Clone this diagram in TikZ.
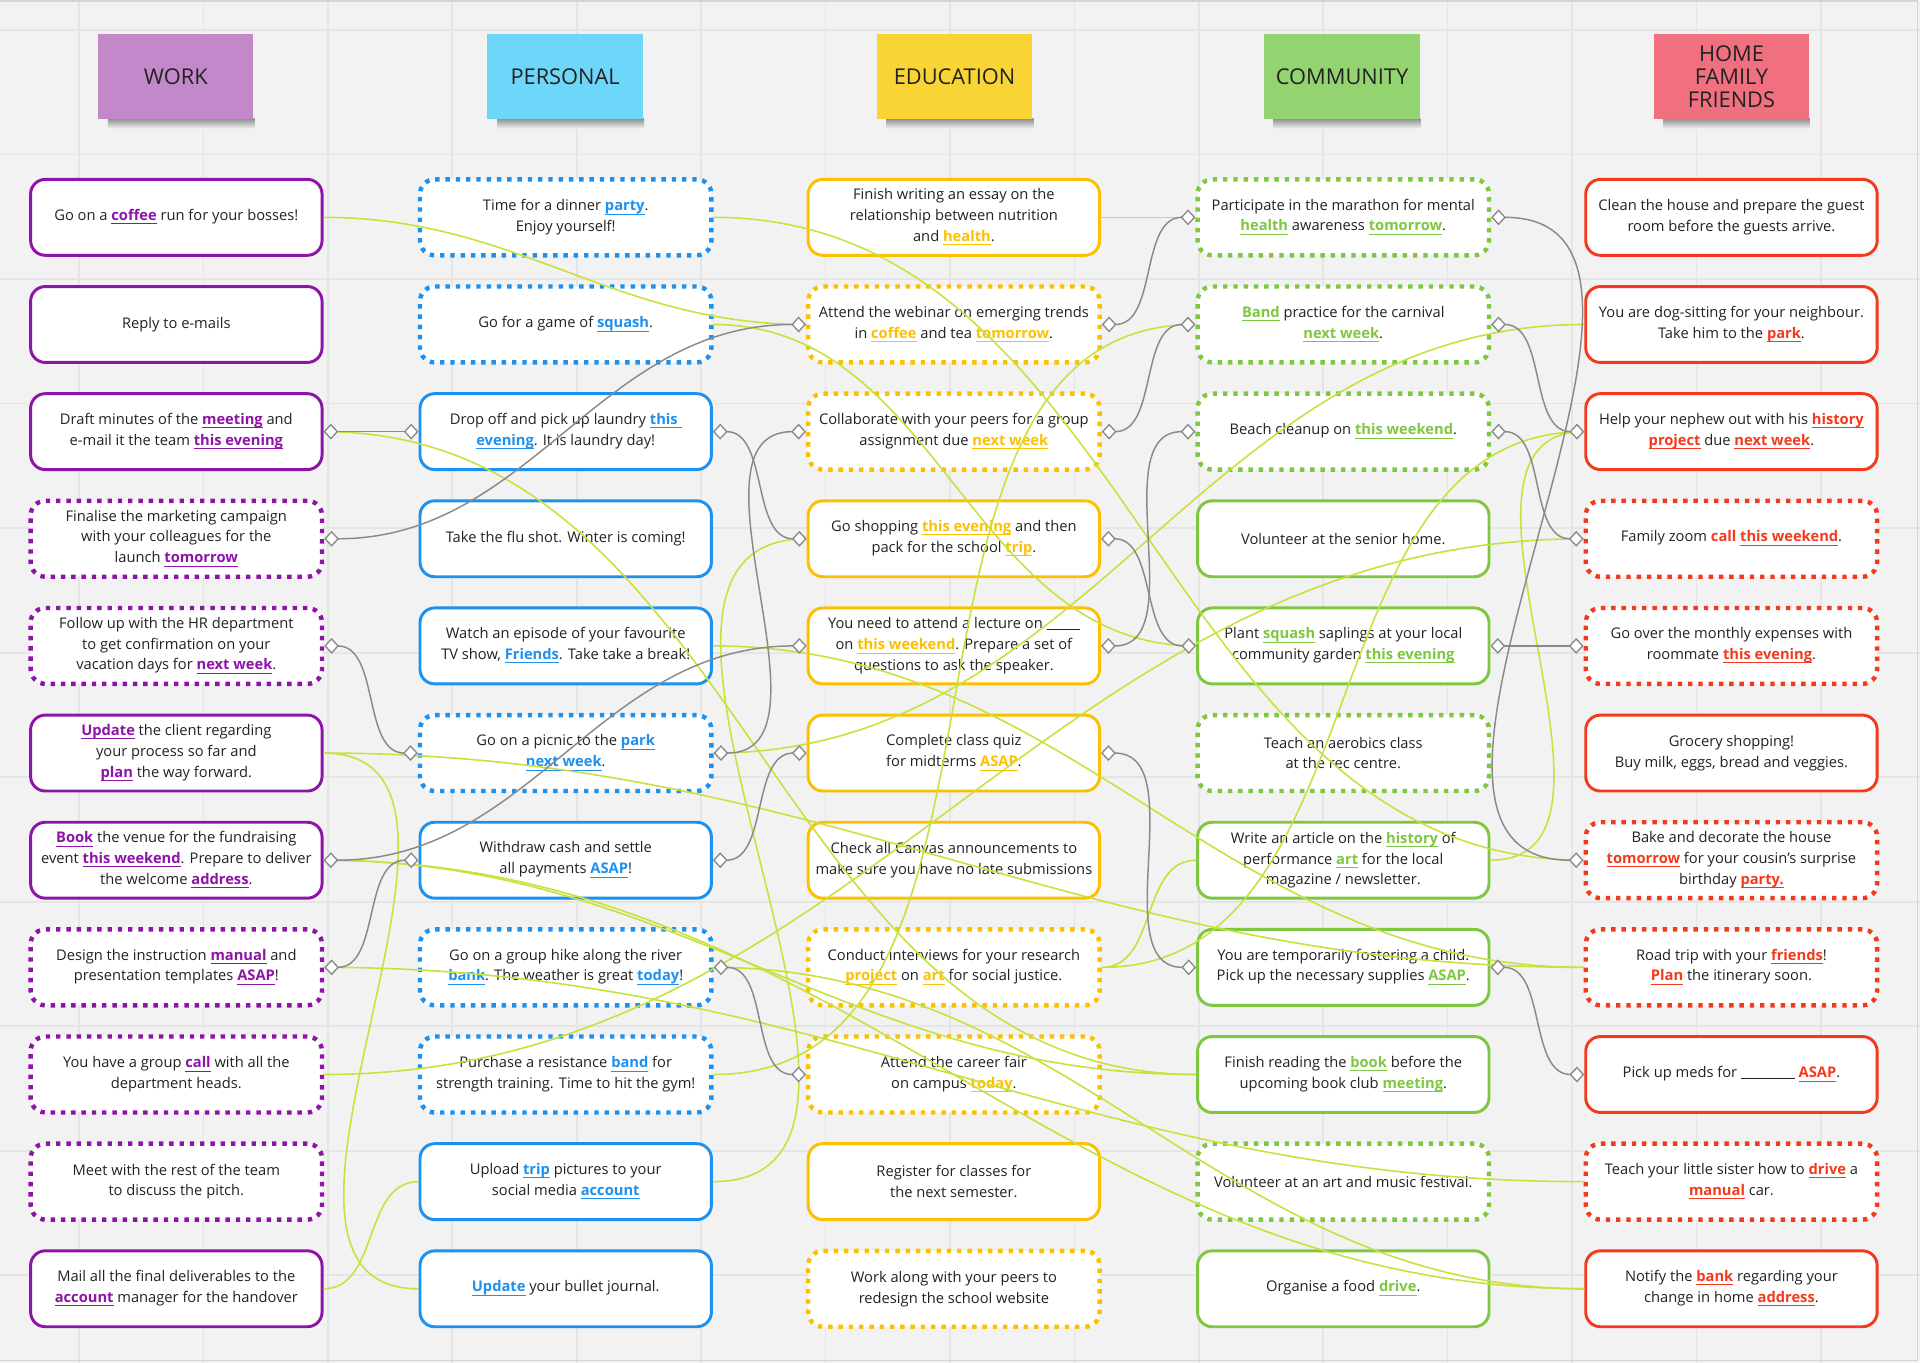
\documentclass[tikz,border=0pt]{standalone}
\usepackage{fontspec}
\setmainfont{Open Sans}
\usetikzlibrary{arrows.meta}

\definecolor{bgc}{RGB}{242,242,242}
\definecolor{gridc}{RGB}{229,229,229}
\definecolor{framec}{RGB}{212,212,212}
\definecolor{textc}{RGB}{34,34,34}
\definecolor{workc}{RGB}{142,20,168}
\definecolor{persc}{RGB}{28,145,240}
\definecolor{educ}{RGB}{252,192,0}
\definecolor{commc}{RGB}{126,199,64}
\definecolor{homec}{RGB}{244,58,28}
\definecolor{worknote}{RGB}{195,136,201}
\definecolor{persnote}{RGB}{110,214,248}
\definecolor{edunote}{RGB}{248,213,52}
\definecolor{commnote}{RGB}{148,212,112}
\definecolor{homenote}{RGB}{241,112,128}
\definecolor{linkgreen}{RGB}{200,225,60}
\definecolor{linkgray}{RGB}{138,138,138}
\colorlet{kc}{textc}

% keyword: bold, coloured, underlined
\newcommand{\kw}[1]{{\bfseries\color{kc}\underline{\smash{#1}}}}
% keyword without underline
\newcommand{\kwb}[1]{{\bfseries\color{kc}#1}}
% blank to fill in
\newcommand{\blank}[1]{\rule[-0.6pt]{#1}{0.45pt}}

\begin{document}
\begin{tikzpicture}[x=0.5pt,y=-0.5pt,
    card/.style={rounded corners=6pt, fill=white, minimum width=119pt,
        minimum height=31pt, inner sep=0pt, align=center, text=textc,
        font=\fontsize{6}{8.5}\selectfont, line width=1.2pt},
    dotcard/.style={line width=1.8pt, dash pattern=on 1.8pt off 2.4pt},
    workcard/.style={card, draw=workc, execute at begin node=\colorlet{kc}{workc}},
    perscard/.style={card, draw=persc, execute at begin node=\colorlet{kc}{persc}},
    educard/.style={card, draw=educ, execute at begin node=\colorlet{kc}{educ}},
    commcard/.style={card, draw=commc, execute at begin node=\colorlet{kc}{commc}},
    homecard/.style={card, draw=homec, execute at begin node=\colorlet{kc}{homec}},
    stickynote/.style={minimum width=63.5pt, minimum height=34.5pt, inner sep=0pt,
        align=center, text=textc, font=\fontsize{8.9}{9.5}\selectfont},
    gridline/.style={draw=gridc, line width=0.7pt},
    kwlink/.style={draw=linkgreen, line width=0.65pt},
    timelink/.style={draw=linkgray, line width=0.6pt,
        {Diamond[fill=white,length=6pt,width=6.5pt,line width=0.55pt]}-{Diamond[fill=white,length=6pt,width=6.5pt,line width=0.55pt]}},
]
\useasboundingbox (0,0) rectangle (1568,1113);
\fill[bgc] (0,0) rectangle (1568,1113);

% grid
\foreach \k in {0,...,14}
    \draw[gridline] ({64.6+101.6*\k},0) -- ++(0,1113);
\foreach \k in {0,...,10}
    \draw[gridline] (0,{24.5+101.7*\k}) -- ++(1568,0);
\draw[framec, line width=0.75pt] (0,1) -- (1566,1) -- (1566,1111) -- (0,1111);

% sticky notes
\shade[top color=black!40!bgc, bottom color=bgc] (88,97) rectangle (208,105);
\shade[top color=black!40!bgc, bottom color=bgc] (406,97) rectangle (526,105);
\shade[top color=black!40!bgc, bottom color=bgc] (724,97) rectangle (844,105);
\shade[top color=black!40!bgc, bottom color=bgc] (1040,97) rectangle (1160,105);
\shade[top color=black!40!bgc, bottom color=bgc] (1358,97) rectangle (1478,105);
\node[stickynote, fill=worknote] (work) at (143.5,62.5) {WORK};
\node[stickynote, fill=persnote] (personal) at (461.5,62.5) {PERSONAL};
\node[stickynote, fill=edunote] (education) at (779.5,62.5) {EDUCATION};
\node[stickynote, fill=commnote] (community) at (1096,62.5) {COMMUNITY};
\node[stickynote, fill=homenote] (home) at (1414,62.5) {HOME\\FAMILY\\FRIENDS};

% work
\node[workcard] (w1) at (144,177.5) {Go on a \kw{coffee} run for your bosses!};
\node[workcard] (w2) at (144,265) {Reply to e-mails};
\node[workcard] (w3) at (144,352.5) {Draft minutes of the \kw{meeting} and\\e-mail it the team \kw{this evening}};
\node[workcard, dotcard] (w4) at (144,440) {Finalise the marketing campaign\\with your colleagues for the\\launch \kw{tomorrow}};
\node[workcard, dotcard] (w5) at (144,527.5) {Follow up with the HR department\\to get confirmation on your\\vacation days for \kw{next week}.};
\node[workcard] (w6) at (144,615) {\kw{Update} the client regarding\\your process so far and\\\kw{plan} the way forward.};
\node[workcard] (w7) at (144,702.5) {\kw{Book} the venue for the fundraising\\event \kw{this weekend}. Prepare to deliver\\the welcome \kw{address}.};
\node[workcard, dotcard] (w8) at (144,790) {Design the instruction \kw{manual} and\\presentation templates \kw{ASAP}!};
\node[workcard, dotcard] (w9) at (144,877.5) {You have a group \kw{call} with all the\\department heads.};
\node[workcard, dotcard] (w10) at (144,965) {Meet with the rest of the team\\to discuss the pitch.};
\node[workcard] (w11) at (144,1052.5) {Mail all the final deliverables to the\\\kw{account} manager for the handover};

% personal
\node[perscard, dotcard] (p1) at (462,177.5) {Time for a dinner \kw{party}.\\Enjoy yourself!};
\node[perscard, dotcard] (p2) at (462,265) {Go for a game of \kw{squash}.};
\node[perscard] (p3) at (462,352.5) {Drop off and pick up laundry \kw{this\ }\\\kw{evening}. It is laundry day!};
\node[perscard] (p4) at (462,440) {Take the flu shot. Winter is coming!};
\node[perscard] (p5) at (462,527.5) {Watch an episode of your favourite\\TV show, \kw{Friends}. Take take a break!};
\node[perscard, dotcard] (p6) at (462,615) {Go on a picnic to the \kw{park}\\\kw{next week}.};
\node[perscard] (p7) at (462,702.5) {Withdraw cash and settle\\all payments \kw{ASAP}!};
\node[perscard, dotcard] (p8) at (462,790) {Go on a group hike along the river\\\kw{bank}. The weather is great \kw{today}!};
\node[perscard, dotcard] (p9) at (462,877.5) {Purchase a resistance \kw{band} for\\strength training. Time to hit the gym!};
\node[perscard] (p10) at (462,965) {Upload \kw{trip} pictures to your\\social media \kw{account}};
\node[perscard] (p11) at (462,1052.5) {\kw{Update} your bullet journal.};

% education
\node[educard] (e1) at (779,177.5) {Finish writing an essay on the\\relationship between nutrition\\and \kw{health}.};
\node[educard, dotcard] (e2) at (779,265) {Attend the webinar on emerging trends\\in \kw{coffee} and tea \kw{tomorrow}.};
\node[educard, dotcard] (e3) at (779,352.5) {Collaborate with your peers for a group\\assignment due \kw{next week}};
\node[educard] (e4) at (779,440) {Go shopping \kw{this evening} and then\\pack for the school \kw{trip}.};
\node[educard] (e5) at (779,527.5) {You need to attend a lecture on \blank{13.5pt}\\on \kw{this weekend}. Prepare a set of\\questions to ask the speaker.};
\node[educard] (e6) at (779,615) {Complete class quiz\\for midterms \kw{ASAP}.};
\node[educard] (e7) at (779,702.5) {Check all Canvas announcements to\\make sure you have no late submissions};
\node[educard, dotcard] (e8) at (779,790) {Conduct interviews for your research\\\kw{project} on \kw{art} for social justice.};
\node[educard, dotcard] (e9) at (779,877.5) {Attend the career fair\\on campus \kw{today}.};
\node[educard] (e10) at (779,965) {Register for classes for\\the next semester.};
\node[educard, dotcard] (e11) at (779,1052.5) {Work along with your peers to\\redesign the school website};

% community
\node[commcard, dotcard] (c1) at (1097,177.5) {Participate in the marathon for mental\\\kw{health} awareness \kw{tomorrow}.};
\node[commcard, dotcard] (c2) at (1097,265) {\kw{Band} practice for the carnival\\\kw{next week}.};
\node[commcard, dotcard] (c3) at (1097,352.5) {Beach cleanup on \kw{this weekend}.};
\node[commcard] (c4) at (1097,440) {Volunteer at the senior home.};
\node[commcard] (c5) at (1097,527.5) {Plant \kw{squash} saplings at your local\\community garden \kw{this evening}};
\node[commcard, dotcard] (c6) at (1097,615) {Teach an aerobics class\\at the rec centre.};
\node[commcard] (c7) at (1097,702.5) {Write an article on the \kw{history} of\\performance \kw{art} for the local\\magazine / newsletter.};
\node[commcard] (c8) at (1097,790) {You are temporarily fostering a child.\\Pick up the necessary supplies \kw{ASAP}.};
\node[commcard] (c9) at (1097,877.5) {Finish reading the \kw{book} before the\\upcoming book club \kw{meeting}.};
\node[commcard, dotcard] (c10) at (1097,965) {Volunteer at an art and music festival.};
\node[commcard] (c11) at (1097,1052.5) {Organise a food \kw{drive}.};

% home / family / friends
\node[homecard] (h1) at (1414,177.5) {Clean the house and prepare the guest\\room before the guests arrive.};
\node[homecard] (h2) at (1414,265) {You are dog-sitting for your neighbour.\\Take him to the \kw{park}.};
\node[homecard] (h3) at (1414,352.5) {Help your nephew out with his \kw{history}\\\kw{project} due \kw{next week}.};
\node[homecard, dotcard] (h4) at (1414,440) {Family zoom \kwb{call} \kw{this weekend}.};
\node[homecard, dotcard] (h5) at (1414,527.5) {Go over the monthly expenses with\\roommate \kw{this evening}.};
\node[homecard] (h6) at (1414,615) {Grocery shopping!\\Buy milk, eggs, bread and veggies.};
\node[homecard, dotcard] (h7) at (1414,702.5) {Bake and decorate the house\\\kw{tomorrow} for your cousin's surprise\\birthday \kw{party.}};
\node[homecard, dotcard] (h8) at (1414,790) {Road trip with your \kw{friends}!\\\kw{Plan} the itinerary soon.};
\node[homecard] (h9) at (1414,877.5) {Pick up meds for \blank{22pt} \kw{ASAP}.};
\node[homecard, dotcard] (h10) at (1414,965) {Teach your little sister how to \kw{drive} a\\\kw{manual} car.};
\node[homecard] (h11) at (1414,1052.5) {Notify the \kw{bank} regarding your\\change in home \kw{address}.};

% keyword links
\draw[kwlink] (w1.east) to[out=0,in=180] (e2.west);
\draw[kwlink] (w3.east) to[out=0,in=180] (c9.west);
\draw[kwlink] (w6.east) to[out=0,in=180] (p11.west);
\draw[kwlink] (w6.east) to[out=0,in=180] (h8.west);
\draw[kwlink] (w7.east) to[out=0,in=180] (c9.west);
\draw[kwlink] (w7.east) to[out=0,in=180] (h11.west);
\draw[kwlink] (w8.east) to[out=0,in=180] (h10.west);
\draw[kwlink] (w9.east) to[out=0,in=180] (h4.west);
\draw[kwlink] (w11.east) to[out=0,in=180] (p10.west);
\draw[kwlink] (p1.east) to[out=0,in=180] (h7.west);
\draw[kwlink] (p2.east) to[out=0,in=180] (c5.west);
\draw[kwlink] (p5.east) to[out=0,in=180] (h8.west);
\draw[kwlink] (p6.east) to[out=0,in=180] (h2.west);
\draw[kwlink] (p8.east) to[out=0,in=180] (h11.west);
\draw[kwlink] (p9.east) to[out=0,in=180] (c2.west);
\draw[kwlink] (p10.east) to[out=0,in=180] (e4.west);
\draw[kwlink] (e1.east) to[out=0,in=180] (c1.west);
\draw[kwlink] (e8.east) to[out=0,in=180] (c7.west);
\draw[kwlink] (e8.east) to[out=0,in=180] (h3.west);
\draw[kwlink] (c7.east) to[out=0,in=180] (h3.west);

% time links
\draw[timelink] (w3.east) to[out=0,in=180] (p3.west);
\draw[timelink] (w4.east) to[out=0,in=180] (e2.west);
\draw[timelink] (w5.east) to[out=0,in=180] (p6.west);
\draw[timelink] (w7.east) to[out=0,in=180] (e5.west);
\draw[timelink] (w8.east) to[out=0,in=180] (p7.west);
\draw[timelink] (p3.east) to[out=0,in=180] (e4.west);
\draw[timelink] (p6.east) to[out=0,in=180] (e3.west);
\draw[timelink] (p7.east) to[out=0,in=180] (e6.west);
\draw[timelink] (p8.east) to[out=0,in=180] (e9.west);
\draw[timelink] (e2.east) to[out=0,in=180] (c1.west);
\draw[timelink] (e3.east) to[out=0,in=180] (c2.west);
\draw[timelink] (e4.east) to[out=0,in=180] (c5.west);
\draw[timelink] (e5.east) to[out=0,in=180] (c3.west);
\draw[timelink] (e6.east) to[out=0,in=180] (c8.west);
\draw[timelink] (c1.east) to[out=0,in=180] (h7.west);
\draw[timelink] (c2.east) to[out=0,in=180] (h3.west);
\draw[timelink] (c3.east) to[out=0,in=180] (h4.west);
\draw[timelink] (c5.east) to[out=0,in=180] (h5.west);
\draw[timelink] (c8.east) to[out=0,in=180] (h9.west);
\end{tikzpicture}
\end{document}
